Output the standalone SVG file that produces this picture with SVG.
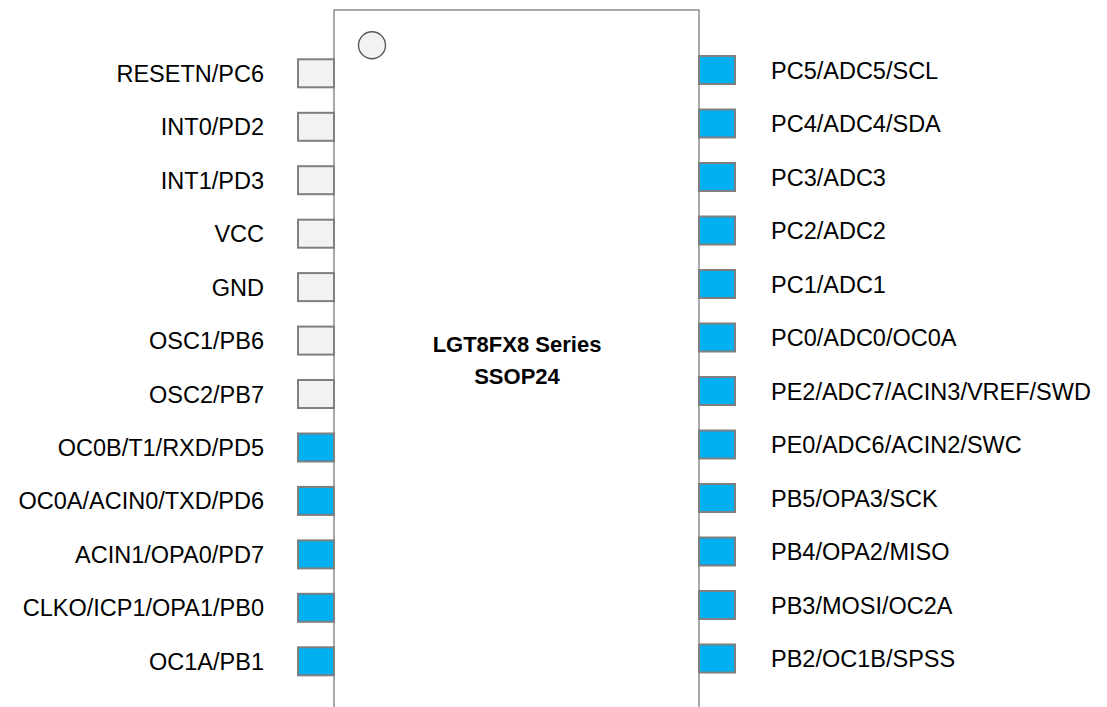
<svg xmlns="http://www.w3.org/2000/svg" width="1107" height="707" viewBox="0 0 1107 707">
<style>
.pin{stroke:#7f7f7f;stroke-width:2}
.g{fill:#f2f2f2}
.b{fill:#00b0f0}
.lbl{font-family:"Liberation Sans",Arial,sans-serif;font-size:23.5px;fill:#000}
.l{text-anchor:end}
.title{font-family:"Liberation Sans",Arial,sans-serif;font-size:22px;font-weight:bold;text-anchor:middle;fill:#000}
</style>
<rect width="1107" height="707" fill="#fff"/>
<g id="chip">
<path d="M334,707 V10 H699 V707" fill="#fff" stroke="#8c8c8c" stroke-width="1.5"/>
<circle cx="372" cy="45.3" r="13.5" fill="#f2f2f2" stroke="#595959" stroke-width="1.4"/>
<text class="title" x="517" y="351.5">LGT8FX8 Series</text>
<text class="title" x="517" y="383.5">SSOP24</text>
</g>
<g id="pin1"><rect class="pin g" x="298" y="59.3" width="36" height="28"/><text class="lbl l" x="264" y="81.8">RESETN/PC6</text></g>
<g id="pin2"><rect class="pin g" x="298" y="112.8" width="36" height="28"/><text class="lbl l" x="264" y="135.3">INT0/PD2</text></g>
<g id="pin3"><rect class="pin g" x="298" y="166.2" width="36" height="28"/><text class="lbl l" x="264" y="188.7">INT1/PD3</text></g>
<g id="pin4"><rect class="pin g" x="298" y="219.7" width="36" height="28"/><text class="lbl l" x="264" y="242.2">VCC</text></g>
<g id="pin5"><rect class="pin g" x="298" y="273.1" width="36" height="28"/><text class="lbl l" x="264" y="295.6">GND</text></g>
<g id="pin6"><rect class="pin g" x="298" y="326.6" width="36" height="28"/><text class="lbl l" x="264" y="349.1">OSC1/PB6</text></g>
<g id="pin7"><rect class="pin g" x="298" y="380" width="36" height="28"/><text class="lbl l" x="264" y="402.5">OSC2/PB7</text></g>
<g id="pin8"><rect class="pin b" x="298" y="433.5" width="36" height="28"/><text class="lbl l" x="264" y="456">OC0B/T1/RXD/PD5</text></g>
<g id="pin9"><rect class="pin b" x="298" y="486.9" width="36" height="28"/><text class="lbl l" x="264" y="509.4">OC0A/ACIN0/TXD/PD6</text></g>
<g id="pin10"><rect class="pin b" x="298" y="540.4" width="36" height="28"/><text class="lbl l" x="264" y="562.9">ACIN1/OPA0/PD7</text></g>
<g id="pin11"><rect class="pin b" x="298" y="593.8" width="36" height="28"/><text class="lbl l" x="264" y="616.3">CLKO/ICP1/OPA1/PB0</text></g>
<g id="pin12"><rect class="pin b" x="298" y="647.3" width="36" height="28"/><text class="lbl l" x="264" y="669.8">OC1A/PB1</text></g>
<g id="pin24"><rect class="pin b" x="699" y="56" width="36" height="28"/><text class="lbl" x="771" y="78.5">PC5/ADC5/SCL</text></g>
<g id="pin23"><rect class="pin b" x="699" y="109.5" width="36" height="28"/><text class="lbl" x="771" y="132">PC4/ADC4/SDA</text></g>
<g id="pin22"><rect class="pin b" x="699" y="163" width="36" height="28"/><text class="lbl" x="771" y="185.5">PC3/ADC3</text></g>
<g id="pin21"><rect class="pin b" x="699" y="216.5" width="36" height="28"/><text class="lbl" x="771" y="239">PC2/ADC2</text></g>
<g id="pin20"><rect class="pin b" x="699" y="270" width="36" height="28"/><text class="lbl" x="771" y="292.5">PC1/ADC1</text></g>
<g id="pin19"><rect class="pin b" x="699" y="323.5" width="36" height="28"/><text class="lbl" x="771" y="346">PC0/ADC0/OC0A</text></g>
<g id="pin18"><rect class="pin b" x="699" y="377" width="36" height="28"/><text class="lbl" x="771" y="399.5">PE2/ADC7/ACIN3/VREF/SWD</text></g>
<g id="pin17"><rect class="pin b" x="699" y="430.5" width="36" height="28"/><text class="lbl" x="771" y="453">PE0/ADC6/ACIN2/SWC</text></g>
<g id="pin16"><rect class="pin b" x="699" y="484" width="36" height="28"/><text class="lbl" x="771" y="506.5">PB5/OPA3/SCK</text></g>
<g id="pin15"><rect class="pin b" x="699" y="537.5" width="36" height="28"/><text class="lbl" x="771" y="560">PB4/OPA2/MISO</text></g>
<g id="pin14"><rect class="pin b" x="699" y="591" width="36" height="28"/><text class="lbl" x="771" y="613.5">PB3/MOSI/OC2A</text></g>
<g id="pin13"><rect class="pin b" x="699" y="644.5" width="36" height="28"/><text class="lbl" x="771" y="667">PB2/OC1B/SPSS</text></g>
</svg>
